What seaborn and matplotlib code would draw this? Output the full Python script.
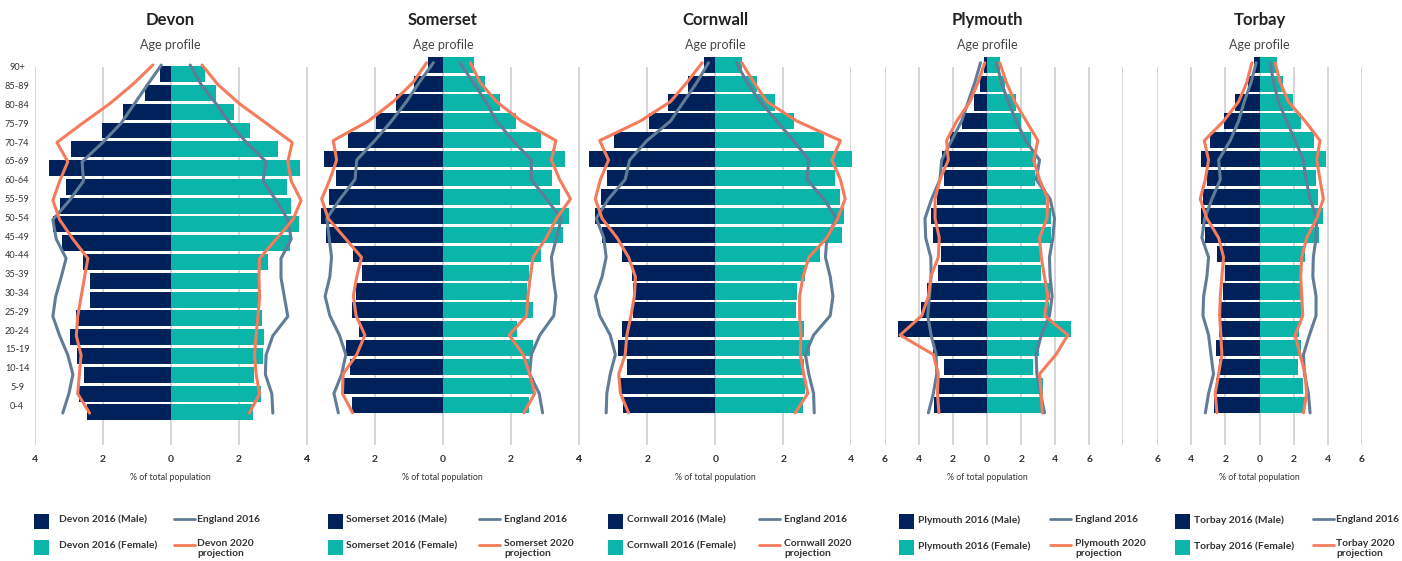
import numpy as np
import pandas as pd
import matplotlib
matplotlib.use("Agg")
import matplotlib.pyplot as plt
import seaborn as sns
from matplotlib.patches import Rectangle
from matplotlib.lines import Line2D
from matplotlib.transforms import blended_transform_factory

# ---------------- data (top row = 90+, bottom row = 0-4) ----------------
age_groups = ["90+", "85-89", "80-84", "75-79", "70-74", "65-69", "60-64", "55-59",
              "50-54", "45-49", "40-44", "35-39", "30-34", "25-29", "20-24", "15-19",
              "10-14", "5-9", "0-4"]

areas = ["Devon", "Somerset", "Cornwall", "Plymouth", "Torbay"]

devon_male = [0.32, 0.76, 1.41, 2.01, 2.94, 3.56, 3.06, 3.26, 3.45, 3.18, 2.58, 2.38, 2.38, 2.79, 2.97, 2.74, 2.53, 2.70, 2.47]
devon_female = [1.02, 1.35, 1.88, 2.35, 3.15, 3.82, 3.44, 3.53, 3.79, 3.50, 2.88, 2.59, 2.56, 2.68, 2.76, 2.71, 2.47, 2.65, 2.44]
devon_eng_m = [0.27, 0.67, 1.06, 1.45, 1.99, 2.60, 2.56, 2.97, 3.46, 3.36, 3.07, 3.22, 3.38, 3.46, 3.26, 3.02, 2.87, 2.99, 3.17]
devon_eng_f = [0.58, 0.90, 1.34, 1.74, 2.23, 2.81, 2.72, 3.11, 3.45, 3.55, 3.25, 3.25, 3.35, 3.45, 3.01, 2.81, 2.79, 2.98, 3.01]
devon_proj_m = [0.52, 1.11, 1.79, 2.58, 3.34, 3.02, 3.26, 3.46, 3.26, 2.87, 2.43, 2.53, 2.63, 2.73, 2.77, 2.63, 2.68, 2.73, 2.38]
devon_proj_f = [0.93, 1.39, 2.03, 2.81, 3.58, 3.45, 3.55, 3.84, 3.60, 3.11, 2.62, 2.60, 2.62, 2.57, 2.52, 2.47, 2.52, 2.62, 2.32]

somerset_male = [0.44, 0.85, 1.38, 1.97, 2.79, 3.49, 3.14, 3.35, 3.58, 3.43, 2.63, 2.38, 2.55, 2.67, 2.46, 2.85, 2.73, 2.89, 2.67]
somerset_female = [0.91, 1.23, 1.67, 2.14, 2.88, 3.58, 3.20, 3.43, 3.70, 3.52, 2.88, 2.52, 2.47, 2.64, 2.17, 2.64, 2.52, 2.67, 2.52]
somerset_eng_m = [0.28, 0.69, 1.07, 1.51, 2.00, 2.53, 2.58, 3.02, 3.41, 3.34, 3.27, 3.32, 3.46, 3.32, 3.04, 2.85, 2.97, 3.20, 3.07]
somerset_eng_f = [0.50, 0.89, 1.26, 1.58, 2.06, 2.60, 2.60, 3.04, 3.48, 3.34, 3.19, 3.24, 3.32, 3.26, 2.85, 2.60, 2.55, 2.83, 2.93]
somerset_proj_m = [0.48, 0.87, 1.46, 2.19, 3.22, 3.12, 3.32, 3.56, 3.37, 2.88, 2.39, 2.53, 2.63, 2.55, 2.29, 2.53, 2.93, 2.95, 2.65]
somerset_proj_f = [0.81, 1.09, 1.58, 2.31, 3.32, 3.19, 3.43, 3.75, 3.34, 3.04, 2.65, 2.57, 2.50, 2.46, 1.95, 2.36, 2.55, 2.70, 2.38]

cornwall_male = [0.32, 0.79, 1.38, 1.94, 2.97, 3.71, 3.18, 3.35, 3.53, 3.32, 2.74, 2.44, 2.41, 2.41, 2.74, 2.85, 2.59, 2.79, 2.71]
cornwall_female = [0.79, 1.24, 1.76, 2.32, 3.21, 4.03, 3.53, 3.68, 3.79, 3.74, 3.09, 2.65, 2.41, 2.38, 2.62, 2.79, 2.62, 2.65, 2.59]
cornwall_eng_m = [0.20, 0.54, 0.93, 1.32, 2.01, 2.52, 2.65, 3.14, 3.50, 3.28, 3.21, 3.33, 3.53, 3.40, 3.09, 2.94, 3.09, 3.19, 3.21]
cornwall_eng_f = [0.62, 0.93, 1.32, 1.81, 2.30, 2.75, 2.70, 3.19, 3.56, 3.28, 3.24, 3.38, 3.46, 3.38, 2.89, 2.65, 2.75, 2.89, 2.91]
cornwall_proj_m = [0.39, 0.83, 1.32, 2.21, 3.40, 3.14, 3.38, 3.53, 3.33, 2.89, 2.55, 2.35, 2.38, 2.48, 2.60, 2.65, 2.84, 2.79, 2.55]
cornwall_proj_f = [0.78, 1.13, 1.52, 2.40, 3.68, 3.43, 3.68, 3.82, 3.60, 3.28, 2.75, 2.58, 2.48, 2.48, 2.52, 2.50, 2.60, 2.72, 2.35]

plymouth_male = [0.19, 0.39, 0.78, 1.50, 2.18, 2.63, 2.53, 2.96, 3.29, 3.16, 2.71, 2.90, 3.55, 3.88, 5.22, 3.16, 2.53, 2.92, 3.12]
plymouth_female = [0.74, 1.03, 1.68, 2.01, 2.55, 2.88, 2.83, 3.47, 3.76, 3.76, 3.08, 3.14, 3.70, 3.66, 4.93, 3.02, 2.69, 3.31, 3.18]
plymouth_eng_m = [0.39, 0.72, 1.11, 1.50, 2.09, 2.67, 2.77, 3.26, 3.65, 3.61, 3.31, 3.29, 3.39, 3.49, 3.29, 3.00, 2.96, 3.16, 3.45]
plymouth_eng_f = [0.55, 0.84, 1.23, 1.72, 2.26, 3.08, 2.88, 3.70, 3.96, 3.86, 3.66, 3.70, 3.82, 3.66, 3.18, 2.88, 2.92, 3.14, 3.37]
plymouth_proj_m = [0.14, 0.53, 1.01, 1.79, 2.38, 2.28, 2.77, 3.06, 3.06, 2.81, 2.87, 3.31, 3.45, 3.84, 5.11, 3.16, 2.87, 2.92, 2.83]
plymouth_proj_f = [0.74, 1.13, 1.62, 2.30, 2.98, 2.73, 3.08, 3.57, 3.51, 3.08, 3.18, 3.37, 3.57, 3.37, 4.74, 4.05, 3.08, 3.18, 3.24]

torbay_male = [0.35, 0.70, 1.43, 2.07, 2.89, 3.42, 3.07, 3.30, 3.42, 3.18, 2.48, 2.01, 2.15, 2.25, 2.36, 2.54, 2.40, 2.54, 2.66]
torbay_female = [1.02, 1.37, 1.97, 2.44, 3.20, 3.91, 3.32, 3.44, 3.71, 3.50, 2.66, 2.44, 2.44, 2.50, 2.32, 2.44, 2.27, 2.56, 2.68]
torbay_eng_m = [0.20, 0.49, 0.90, 1.23, 1.72, 2.40, 2.30, 2.79, 3.22, 3.38, 2.99, 3.09, 3.28, 3.32, 2.99, 2.85, 2.70, 2.99, 3.18]
torbay_eng_f = [0.63, 0.82, 1.11, 1.60, 2.09, 2.58, 2.73, 2.97, 3.36, 3.32, 3.16, 3.13, 3.32, 3.32, 2.93, 2.58, 2.64, 2.87, 2.97]
torbay_proj_m = [0.45, 0.74, 1.23, 2.11, 3.24, 2.99, 3.18, 3.48, 3.09, 2.40, 2.11, 2.21, 2.30, 2.34, 2.27, 2.21, 2.40, 2.60, 2.50]
torbay_proj_f = [0.92, 1.21, 1.70, 2.68, 3.55, 3.36, 3.55, 3.75, 3.36, 2.77, 2.48, 2.42, 2.48, 2.54, 2.09, 2.38, 2.68, 2.77, 2.58]

panel_data = {
    "Devon": (devon_male, devon_female, devon_eng_m, devon_eng_f, devon_proj_m, devon_proj_f),
    "Somerset": (somerset_male, somerset_female, somerset_eng_m, somerset_eng_f, somerset_proj_m, somerset_proj_f),
    "Cornwall": (cornwall_male, cornwall_female, cornwall_eng_m, cornwall_eng_f, cornwall_proj_m, cornwall_proj_f),
    "Plymouth": (plymouth_male, plymouth_female, plymouth_eng_m, plymouth_eng_f, plymouth_proj_m, plymouth_proj_f),
    "Torbay": (torbay_male, torbay_female, torbay_eng_m, torbay_eng_f, torbay_proj_m, torbay_proj_f),
}

# ---------------- style ----------------
W, H = 1402, 561
C_MALE = "#00215a"
C_FEMALE = "#0bb5aa"
C_ENG = "#617c97"
C_PROJ = "#f47b5b"
C_GRID = "#d5d5d5"
C_TEXT = "#333333"

HUMAN = ["Lato", "DejaVu Sans"]

sns.set_theme(style="white")
plt.rcParams["font.family"] = HUMAN

# axes pixel extents: (left, right, xmin, xmax, bar offset)
panel_layout = {
    "Devon": (34.5, 306.5, -4, 4, -0.38),
    "Somerset": (306.7, 579.0, -4, 4, 0.0),
    "Cornwall": (579.3, 851.3, -4, 4, 0.0),
    "Plymouth": (885.0, 1123.3, -6, 8, 0.0),
    "Torbay": (1157.3, 1361.7, -6, 6, 0.0),
}
# legend pixel x: square, text, line start, line text
legend_layout = {
    "Devon": (34, 59, 174, 197),
    "Somerset": (328, 346, 479, 504),
    "Cornwall": (608, 627, 759, 784),
    "Plymouth": (899, 918, 1050, 1075),
    "Torbay": (1175, 1194, 1313, 1336),
}
AX_TOP, AX_BOT = 67, 445
YLIM = (-2.12, 17.88)
LEG_FS = 7.4

def fx(x):
    return x / W

def fy(y):
    return 1 - y / H

fig = plt.figure(figsize=(W / 100, H / 100), dpi=100)

n = len(age_groups)
bar_pos = np.array([n - 1 - i for i in range(n)], dtype=float)
line_pos = -0.42 + 1.029 * bar_pos

for area in areas:
    male, female, eng_m, eng_f, proj_m, proj_f = panel_data[area]
    left, right, xmin, xmax, boff = panel_layout[area]
    ax = fig.add_axes([fx(left), fy(AX_BOT), (right - left) / W, (AX_BOT - AX_TOP) / H])

    df = pd.DataFrame({
        "pos": np.concatenate([bar_pos + boff, bar_pos + boff]),
        "value": np.concatenate([-np.array(male), np.array(female)]),
        "sex": ["Male"] * n + ["Female"] * n,
    })
    sns.barplot(data=df, x="value", y="pos", hue="sex", orient="y", native_scale=True,
                dodge=False, palette={"Male": C_MALE, "Female": C_FEMALE},
                width=0.85, legend=False, ax=ax, saturation=1, linewidth=0)

    for vals, col in [(-np.array(eng_m), C_ENG), (np.array(eng_f), C_ENG),
                      (-np.array(proj_m), C_PROJ), (np.array(proj_f), C_PROJ)]:
        sns.lineplot(x=vals, y=line_pos, orient="y", sort=False, estimator=None,
                     color=col, lw=2.2, ax=ax)

    for art in ax.patches + ax.lines:
        art.set_clip_on(False)

    ax.set_xlim(xmin, xmax)
    ax.set_ylim(*YLIM)
    ticks = list(range(xmin, xmax + 1, 2))
    ax.set_xticks(ticks)
    ax.set_xticklabels([str(abs(t)) if abs(t) <= 6 else "" for t in ticks],
                       fontsize=7.5, fontweight="bold", color=C_TEXT)
    ax.tick_params(axis="x", length=0, pad=7)
    ax.grid(axis="x", color=C_GRID, lw=1.4)
    ax.grid(axis="y", visible=False)
    ax.set_axisbelow(True)
    for s in ax.spines.values():
        s.set_visible(False)
    ax.set_xlabel("")
    ax.set_ylabel("")

    if area == "Devon":
        ax.set_yticks(bar_pos)
        ax.set_yticklabels(age_groups, fontsize=6.6, color=C_TEXT)
        ax.tick_params(axis="y", length=0, pad=12.5)
        for lab in ax.get_yticklabels():
            lab.set_horizontalalignment("center")
    else:
        ax.set_yticks([])

    tr = blended_transform_factory(ax.transData, fig.transFigure)
    ax.text(0, fy(20), area, transform=tr, ha="center", va="center",
            fontsize=12, fontweight="bold", color="#222222")
    ax.text(0, fy(45), "Age profile", transform=tr, ha="center", va="center",
            fontsize=9, color="#444444")
    ax.text(0, fy(477), "% of total population", transform=tr, ha="center", va="center",
            fontsize=6.3, color=C_TEXT)

    # legend
    sq, tx, lx, ltx = legend_layout[area]
    for ytop, col in [(514, C_MALE), (540, C_FEMALE)]:
        fig.add_artist(Rectangle((fx(sq), fy(ytop + 15)), 15 / W, 15 / H,
                                 transform=fig.transFigure, color=col, lw=0))
    fig.text(fx(tx), fy(520), f"{area} 2016 (Male)", ha="left", va="center",
             fontsize=LEG_FS, fontweight="bold", color=C_TEXT)
    fig.text(fx(tx), fy(546), f"{area} 2016 (Female)", ha="left", va="center",
             fontsize=LEG_FS, fontweight="bold", color=C_TEXT)
    fig.add_artist(Line2D([fx(lx), fx(lx + 21)], [fy(519), fy(519)],
                          transform=fig.transFigure, color=C_ENG, lw=2))
    fig.add_artist(Line2D([fx(lx), fx(lx + 21)], [fy(545), fy(545)],
                          transform=fig.transFigure, color=C_PROJ, lw=2))
    fig.text(fx(ltx), fy(520), "England 2016", ha="left", va="center",
             fontsize=LEG_FS, fontweight="bold", color=C_TEXT)
    fig.text(fx(ltx), fy(538.5), f"{area} 2020\nprojection", ha="left", va="top",
             fontsize=LEG_FS, fontweight="bold", color=C_TEXT, linespacing=1.15)

fig.savefig("out.png", dpi=100)
